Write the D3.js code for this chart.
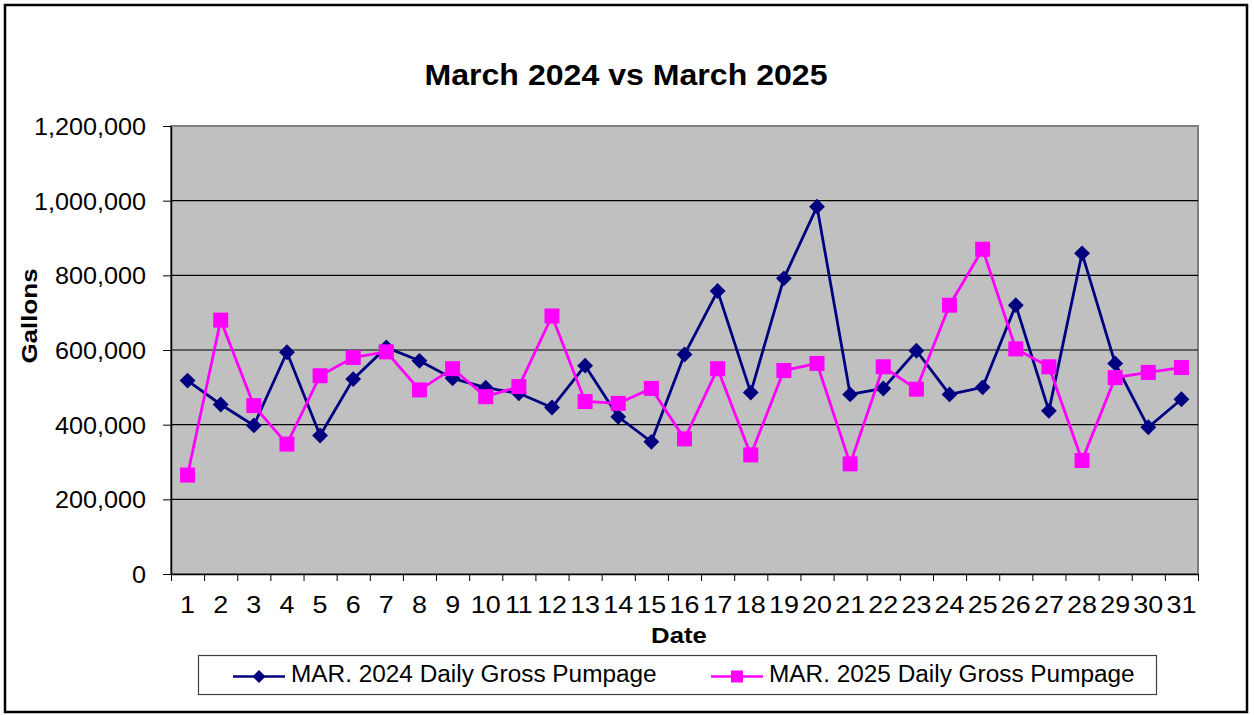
<!DOCTYPE html>
<html>
<head>
<meta charset="utf-8">
<script src="https://cdn.jsdelivr.net/npm/d3@7"></script>
<style>
  html, body { margin: 0; padding: 0; background: #fff; }
  svg { display: block; font-family: "Liberation Sans", Arial, sans-serif; }
</style>
</head>
<body>
<svg id="chart" width="1254" height="715"></svg>
<script>
const days = d3.range(1, 32);
const mar2024 = [518000, 454000, 398000, 594000, 371000, 522000, 607000, 571000, 524000, 499000,
  484000, 446000, 558000, 421000, 354000, 588000, 758000, 486000, 792000, 984000,
  481000, 497000, 598000, 481000, 500000, 720000, 437000, 859000, 564000, 393000, 468000];
const mar2025 = [265000, 680000, 451000, 348000, 531000, 580000, 595000, 493000, 550000, 475000,
  502000, 691000, 462000, 457000, 497000, 362000, 550000, 319000, 545000, 564000,
  295000, 555000, 495000, 720000, 870000, 603000, 555000, 304000, 526000, 540000, 553000];
const yTicks = [0, 200000, 400000, 600000, 800000, 1000000, 1200000];
const seriesNames = ['MAR. 2024 Daily Gross Pumpage', 'MAR. 2025 Daily Gross Pumpage'];

const svg = d3.select('#chart');
const plotLeft = 171, plotRight = 1198, plotTop = 126, plotBottom = 574;

const x = d3.scaleBand().domain(days).range([plotLeft, plotRight]).padding(0);
const xEdge = d3.scaleLinear().domain([0.5, 31.5]).range([plotLeft, plotRight]);
const y = d3.scaleLinear().domain([0, 1200000]).range([plotBottom, plotTop]);
const cx = d => x(d) + x.bandwidth() / 2;

// outer chart border
svg.append('rect')
  .attr('x', 5).attr('y', 5).attr('width', 1242).attr('height', 707)
  .attr('fill', '#fff').attr('stroke', '#000').attr('stroke-width', 2.5);

// plot area
svg.append('rect')
  .attr('x', plotLeft).attr('y', plotTop).attr('width', plotRight - plotLeft).attr('height', plotBottom - plotTop)
  .attr('fill', '#c0c0c0').attr('stroke', '#808080').attr('stroke-width', 2);

// gridlines
svg.append('g').selectAll('line')
  .data(yTicks.filter(t => t > 0 && t < 1200000))
  .enter().append('line')
  .attr('x1', plotLeft).attr('x2', plotRight)
  .attr('y1', d => y(d)).attr('y2', d => y(d))
  .attr('stroke', '#000').attr('stroke-width', 1.2);

// y axis
const yAxis = svg.append('g')
  .attr('transform', `translate(${plotLeft},0)`)
  .call(d3.axisLeft(y).tickValues(yTicks).tickFormat(d3.format(',')).tickSize(8).tickSizeOuter(0));
yAxis.select('.domain').attr('stroke', '#000').attr('stroke-width', 1.5);
yAxis.selectAll('.tick line').attr('stroke', '#000');
const ySx = 1.05;
yAxis.selectAll('.tick text')
  .attr('font-size', 24).attr('fill', '#000')
  .attr('x', -25 / ySx).attr('dy', '0.36em')
  .attr('transform', `scale(${ySx},1)`);

// x axis: ticks on category edges
const xTickAxis = svg.append('g')
  .attr('transform', `translate(0,${plotBottom})`)
  .call(d3.axisBottom(xEdge).tickValues(d3.range(0.5, 32, 1)).tickSize(7).tickSizeOuter(0).tickFormat(''));
xTickAxis.select('.domain').attr('stroke', '#000').attr('stroke-width', 1.5);
xTickAxis.selectAll('.tick line').attr('stroke', '#000');

const xLabelAxis = svg.append('g')
  .attr('transform', `translate(0,${plotBottom})`)
  .call(d3.axisBottom(x).tickSize(0));
xLabelAxis.select('.domain').remove();
const xSx = 1.12;
xLabelAxis.selectAll('.tick text')
  .attr('font-size', 24).attr('fill', '#000')
  .attr('y', 39).attr('dy', null)
  .attr('transform', `scale(${xSx},1)`);

// title and axis titles
svg.append('text')
  .attr('transform', 'translate(626,85) scale(1.07,1)')
  .attr('text-anchor', 'middle').attr('font-size', 30).attr('font-weight', 'bold')
  .text('March 2024 vs March 2025');

svg.append('text')
  .attr('transform', 'translate(679,643) scale(1.17,1)')
  .attr('text-anchor', 'middle').attr('font-size', 22).attr('font-weight', 'bold')
  .text('Date');

svg.append('text')
  .attr('transform', 'translate(37,316) rotate(-90) scale(1.18,1)')
  .attr('text-anchor', 'middle').attr('font-size', 22).attr('font-weight', 'bold')
  .text('Gallons');

// series
const line = d3.line().x((d, i) => cx(days[i])).y(d => y(d));
const diamond = d3.symbol().type(d3.symbolDiamond2).size(160);

const s1 = svg.append('g');
s1.append('path').datum(mar2024)
  .attr('d', line).attr('fill', 'none').attr('stroke', '#000080').attr('stroke-width', 2.8);
s1.selectAll('path.m').data(mar2024).enter().append('path').attr('class', 'm')
  .attr('transform', (d, i) => `translate(${cx(days[i])},${y(d)})`)
  .attr('d', diamond).attr('fill', '#000080');

const s2 = svg.append('g');
s2.append('path').datum(mar2025)
  .attr('d', line).attr('fill', 'none').attr('stroke', '#ff00ff').attr('stroke-width', 2.8);
s2.selectAll('rect').data(mar2025).enter().append('rect')
  .attr('x', (d, i) => cx(days[i]) - 7.5).attr('y', d => y(d) - 7.5)
  .attr('width', 15).attr('height', 15).attr('fill', '#ff00ff');

// legend
const legend = svg.append('g');
legend.append('rect')
  .attr('x', 198.5).attr('y', 655.5).attr('width', 958).attr('height', 39)
  .attr('fill', '#fff').attr('stroke', '#404040').attr('stroke-width', 1.2);

const legendItems = [
  { name: seriesNames[0], color: '#000080', marker: 'diamond', x0: 233 },
  { name: seriesNames[1], color: '#ff00ff', marker: 'square', x0: 711 }
];
const ly = 676.5;
legendItems.forEach(item => {
  legend.append('line')
    .attr('x1', item.x0).attr('x2', item.x0 + 52).attr('y1', ly).attr('y2', ly)
    .attr('stroke', item.color).attr('stroke-width', 2.5);
  if (item.marker === 'diamond') {
    legend.append('path')
      .attr('transform', `translate(${item.x0 + 26},${ly})`)
      .attr('d', d3.symbol().type(d3.symbolDiamond2).size(110)).attr('fill', item.color);
  } else {
    legend.append('rect')
      .attr('x', item.x0 + 26 - 6).attr('y', ly - 6).attr('width', 12).attr('height', 12)
      .attr('fill', item.color);
  }
  legend.append('text')
    .attr('transform', `translate(${item.x0 + 58},682) scale(1.06,1)`)
    .attr('font-size', 23).attr('fill', '#000')
    .text(item.name);
});
</script>
</body>
</html>
